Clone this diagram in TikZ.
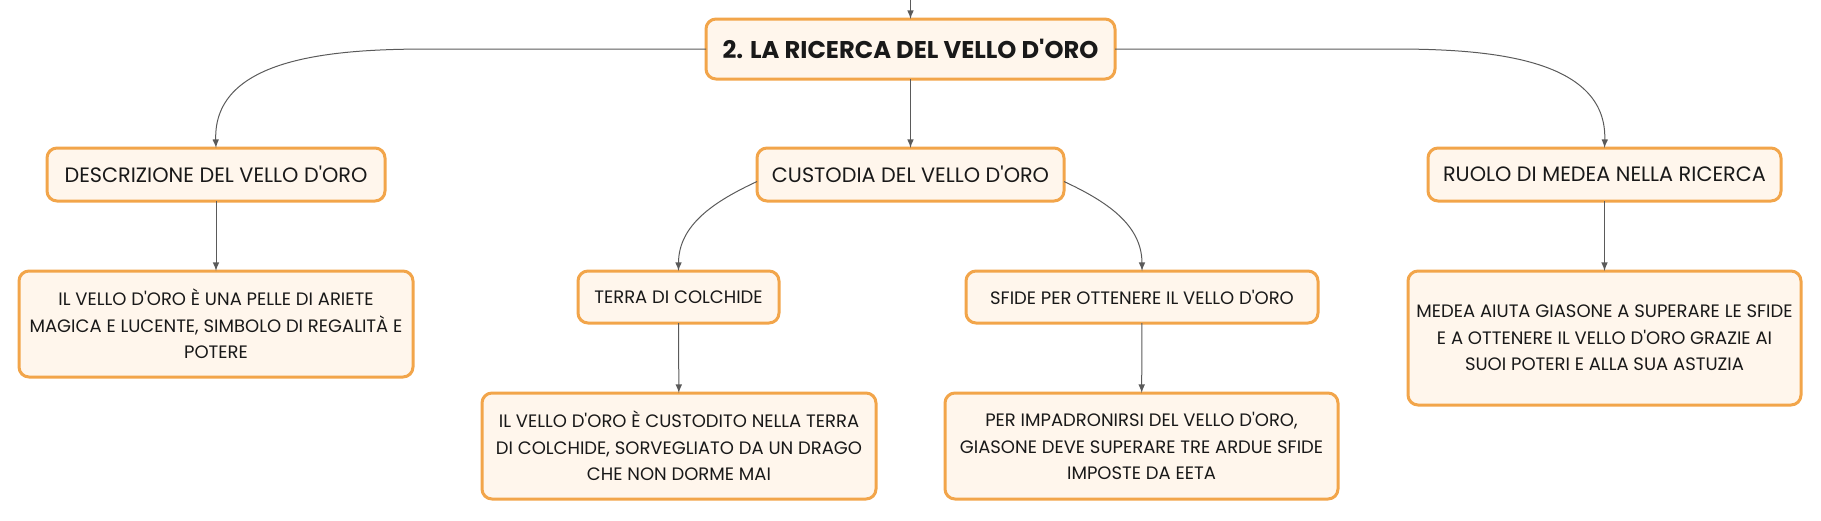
\documentclass[tikz,border=0pt]{standalone}
\usepackage{fontspec}
\setmainfont{Poppins}[Ligatures=TeXOff]
\definecolor{boxline}{HTML}{F2A54A}
\definecolor{boxfill}{HTML}{FFF6EC}
\definecolor{wire}{HTML}{5A5A5A}
\begin{document}
\begin{tikzpicture}
    [
    x=0.5pt, y=-0.5pt,
    box/.style={rounded corners=5pt,draw=boxline,fill=boxfill,line width=1.5pt,outer sep=0pt,inner sep=0pt,align=center,text=black!90,font=\fontsize{9}{13.3}\selectfont},
    topic/.style={box,minimum height=26.5pt,font=\fontsize{10.4}{13.3}\selectfont},
    subtopic/.style={box,minimum height=26pt},
    note/.style={box,minimum height=53pt},
    link/.style={draw=wire,line width=0.5pt,-latex}
    ]
    \useasboundingbox (0,0) rectangle (1821,520);
    \coordinate (top) at (910.5,0);
    \node (root) at (910.5,49) [box,minimum width=204.5pt,minimum height=30pt,font=\fontsize{12.1}{14}\selectfont\bfseries] {2. LA RICERCA DEL VELLO D'ORO};
    \node (desc) at (216,174.5) [topic,minimum width=169pt] {DESCRIZIONE DEL VELLO D'ORO};
    \node (cust) at (910.5,174.5) [topic,minimum width=153.5pt] {CUSTODIA DEL VELLO D'ORO};
    \node (ruolo) at (1604.5,174.5) [topic,minimum width=176.5pt] {RUOLO DI MEDEA NELLA RICERCA};
    \node (descT) at (216,324) [note,minimum width=197pt] {IL VELLO D'ORO È UNA PELLE DI ARIETE\\MAGICA E LUCENTE, SIMBOLO DI REGALITÀ E\\POTERE};
    \node (terra) at (678.5,297) [subtopic,minimum width=100.5pt] {TERRA DI COLCHIDE};
    \node (sfide) at (1142,297) [subtopic,minimum width=176pt] {SFIDE PER OTTENERE IL VELLO D'ORO};
    \node (terraT) at (679,446) [note,minimum width=197pt] {IL VELLO D'ORO È CUSTODITO NELLA TERRA\\DI COLCHIDE, SORVEGLIATO DA UN DRAGO\\CHE NON DORME MAI};
    \node (sfideT) at (1141.5,446) [note,minimum width=196.5pt] {PER IMPADRONIRSI DEL VELLO D'ORO,\\GIASONE DEVE SUPERARE TRE ARDUE SFIDE\\IMPOSTE DA EETA};
    \node (ruoloT) at (1604.5,338) [note,minimum width=196.5pt,minimum height=67pt] {MEDEA AIUTA GIASONE A SUPERARE LE SFIDE\\E A OTTENERE IL VELLO D'ORO GRAZIE AI\\SUOI POTERI E ALLA SUA ASTUZIA};
    \draw [link] (top) to (root);
    \draw [link] (root.west) -- ++(-275,0) to[out=180,in=92] (desc.north);
    \draw [link] (root.east) -- ++(278,0) to[out=0,in=88] (ruolo.north);
    \draw [link] (root) to (cust);
    \draw [link] ([yshift=-3.5pt]cust.west) to[out=205,in=90] (terra.north);
    \draw [link] ([yshift=-3.5pt]cust.east) to[out=-25,in=90] (sfide.north);
    \draw [link] (desc) to (descT);
    \draw [link] (terra) to (terraT);
    \draw [link] (sfide) to (sfideT);
    \draw [link] (ruolo) to (ruoloT);
  \end{tikzpicture}
\end{document}
